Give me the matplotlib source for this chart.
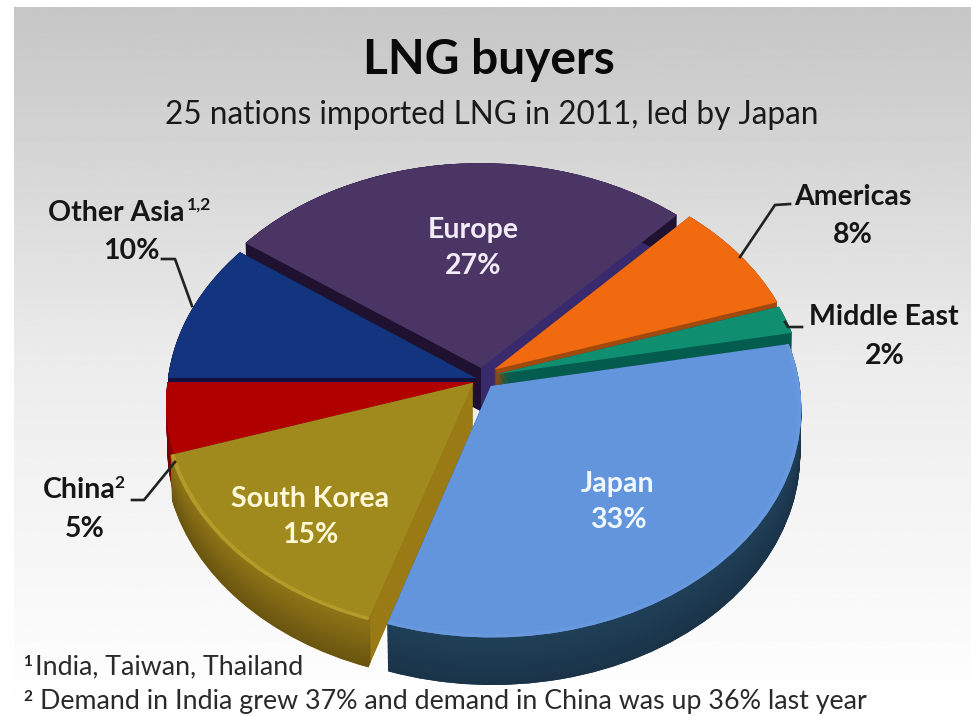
import numpy as np
import matplotlib
matplotlib.use("Agg")
import matplotlib.pyplot as plt
from matplotlib.transforms import Transform

plt.rcParams['font.family'] = ['Lato', 'DejaVu Sans']

# LNG imports by buyer, share of 2011 total, counter-clockwise from 9 o'clock
categories = ["China", "South Korea", "Japan", "Middle East", "Americas", "Europe", "Other Asia"]
shares = [5, 15, 33, 2, 8, 27, 10]
explode = [0.0, 0.03, 0.06, 0.065, 0.07, 0.045, 0.0]
nudge_x = [0.0, 0.012, 0.008, 0.0, 0.0, 0.02, 0.0]
nudge_y = [-0.018, 0.0, 0.01, 0.0, 0.0, 0.0, 0.0]
face_colors = ["#b10000", "#a08a1e", "#6395dc", "#0f8f70", "#f26a10", "#4b3565", "#133580"]
side_colors = ["#6e0000", "#9a7a14", "#1c3a54", "#045c4e", "#a04a10", "#392a6e", "#12103c"]
inner_side_colors = [None, None, None, None, None, "#1e1230", None]
rim_top = ["#8a0000", "#8f7517", "#1f4058", "#045c4e", "#a04a10", "#1e1230", "#12103c"]
rim_bottom = ["#6e0000", "#6a5510", "#1a3348", "#045c4e", "#a04a10", "#1e1230", "#12103c"]
bevel_colors = [None, "#b59c2a", "#6899df", None, None, None, None]
solid_depth = [0.12, 1, 1, 1, 1, 1, 0.12]
draw_order = ["Europe", "Americas", "Middle East", "Other Asia", "China", "South Korea", "Japan"]


class Perspective(Transform):
    """Projects the flat unit-radius pie onto the tilted view plane."""
    input_dims = 2
    output_dims = 2
    is_separable = False
    has_inverse = False

    def __init__(self, hub, bx, by, p):
        super().__init__()
        self.hub, self.bx, self.by, self.p = hub, bx, by, p

    def transform_non_affine(self, values):
        v = np.asarray(values, dtype=float)
        w = 1 + self.p * v[:, 1]
        return np.column_stack((self.hub[0] + self.bx * v[:, 0] / w,
                                self.hub[1] - self.by * v[:, 1] / w))


fig = plt.figure(figsize=(9.71, 7.16), dpi=100)
ax = fig.add_axes([0, 0, 1, 1])

# Slide background: grey at the top fading to white
ramp = np.interp(np.linspace(0, 1, 400), [0, 0.5, 1], [0.775, 0.925, 1.0]).reshape(-1, 1)
ax.imshow(ramp, cmap="gray", vmin=0, vmax=1, aspect="auto", extent=(14, 971, 716, 7), zorder=0)

proj = Perspective((476, 378), 308, 226, 0.095)
n_layers = 40
depth = 0.19
taper = 0.022
rank = {name: i for i, name in enumerate(draw_order)}


def mix(c0, c1, t):
    a, b = matplotlib.colors.to_rgb(c0), matplotlib.colors.to_rgb(c1)
    return tuple((1 - t) * x + t * y for x, y in zip(a, b))


def place(w, i):
    cx, cy = w.center
    w.set_center((cx + nudge_x[i], cy + nudge_y[i]))
    w.set_transform(proj + ax.transData)
    w.set_linewidth(0)
    w.set_clip_on(False)


def pie_layer(t=0.0):
    wedges, _ = ax.pie(shares, explode=explode, startangle=180, normalize=True,
                       center=(0, -depth * t), radius=1 - taper * t)
    for i, w in enumerate(wedges):
        place(w, i)
    return wedges


for t in np.linspace(1, 0, n_layers):
    # Solid body of each slice, which shows on its cut faces
    for i, w in enumerate(pie_layer(t)):
        w.set_facecolor(side_colors[i])
        w.set_zorder(10 * (rank[categories[i]] + 1) + 2 - 2 * t)
        w.set_visible(t <= solid_depth[i])
    # Darker inner half of a cut face that turns away from the light
    for i, w in enumerate(pie_layer(t)):
        if inner_side_colors[i] is None:
            w.set_visible(False)
            continue
        w.set_theta1(0.5 * (w.theta1 + w.theta2))
        w.set_facecolor(inner_side_colors[i])
        w.set_zorder(10 * (rank[categories[i]] + 1) + 3 - 2 * t)
    # Outer curved wall
    for i, w in enumerate(pie_layer(t)):
        w.set_width(0.02)
        w.set_facecolor(mix(rim_top[i], rim_bottom[i], t))
        w.set_zorder(10 * (rank[categories[i]] + 1) + 5 - 2 * t)

# Top surface, with a soft bevel along the rim of the raised slices
for i, w in enumerate(pie_layer()):
    w.set_facecolor(face_colors[i])
    w.set_zorder(10 * (rank[categories[i]] + 1) + 6)
for i, w in enumerate(pie_layer()):
    if bevel_colors[i] is None:
        w.set_visible(False)
        continue
    w.set_width(0.012)
    w.set_facecolor(bevel_colors[i])
    w.set_zorder(10 * (rank[categories[i]] + 1) + 7)

ax.set_aspect("auto")
ax.set_xlim(0, 971)
ax.set_ylim(716, 0)
ax.axis("off")

# Titles
ax.text(489, 60, "LNG buyers", ha="center", va="center", fontsize=34.5, fontweight="bold",
        color="#0a0a0a", zorder=200)
ax.text(492, 115, "25 nations imported LNG in 2011, led by Japan", ha="center", va="center",
        fontsize=22.7, color="#1a1a1a", zorder=200)

# Labels inside the slices
inside = [("Europe\n27%", 473, 248, "#f2ecf8"), ("South Korea\n15%", 310, 517, "#fff8d8"),
          ("Japan\n33%", 618, 502, "#f0f8ff")]
for txt, x, y, col in inside:
    ax.text(x, y, txt, ha="center", va="center", fontsize=20.5, fontweight="bold", color=col,
            linespacing=1.52, zorder=200)

# Labels outside the pie
outside = [("Other Asia", 116, 213), ("10%", 131, 251), ("Americas", 853, 197), ("8%", 853, 235),
           ("Middle East", 884, 317), ("2%", 885, 356), ("China", 79, 490), ("5%", 85, 529)]
for txt, x, y in outside:
    ax.text(x, y, txt, ha="center", va="center", fontsize=20.5, fontweight="bold", color="#161616",
            zorder=200)
ax.text(187, 205, "1,2", ha="left", va="center", fontsize=12.5, fontweight="bold", color="#161616", zorder=200)
ax.text(114, 483, "2", ha="left", va="center", fontsize=12.5, fontweight="bold", color="#161616", zorder=200)

# Leader lines
leaders = [([162, 175, 192], [259, 259, 306]), ([790, 775, 740], [204, 205, 257]),
           ([802, 788, 785], [327, 327, 322]), ([132, 144, 175], [500, 500, 462])]
for xs, ys in leaders:
    ax.plot(xs, ys, color="#222222", lw=1.9, zorder=150, solid_joinstyle="round")

# Footnotes
ax.text(23, 662, "1", ha="left", va="center", fontsize=11, fontweight="bold", color="#222222", zorder=200)
ax.text(35, 667, "India, Taiwan, Thailand", ha="left", va="center", fontsize=19.3, color="#2a2a2a", zorder=200)
ax.text(23, 697, "2", ha="left", va="center", fontsize=11, fontweight="bold", color="#222222", zorder=200)
ax.text(40, 701, "Demand in India grew 37% and demand in China was up 36% last year", ha="left", va="center",
        fontsize=19.3, color="#2a2a2a", zorder=200)

fig.savefig("out.png", dpi=100, facecolor="white")
